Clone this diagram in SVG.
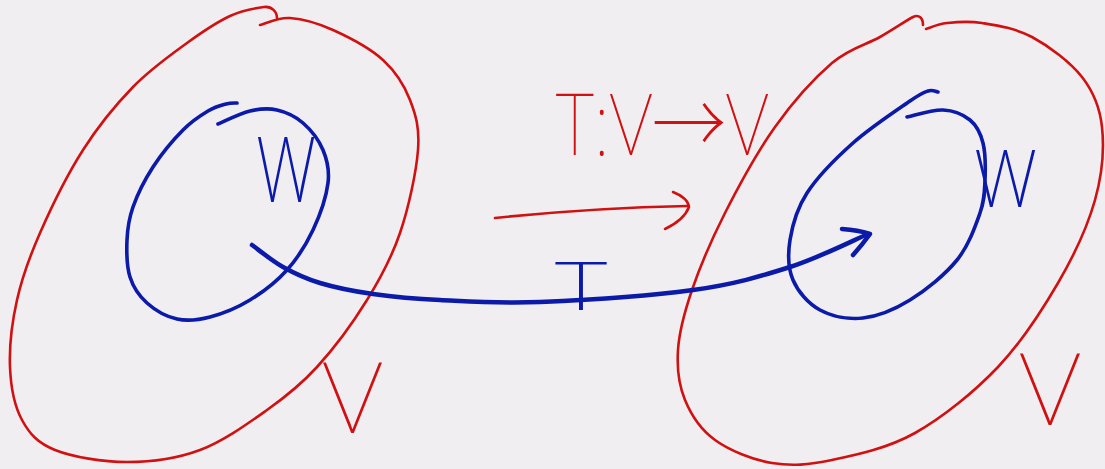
<svg xmlns="http://www.w3.org/2000/svg" width="1105" height="469" viewBox="0 0 1105 469">
<style>
.red{fill:none;stroke:#d11111;stroke-width:2.6;stroke-linecap:round;stroke-linejoin:round}
.blue{fill:none;stroke:#0b1aa8;stroke-width:3.6;stroke-linecap:round;stroke-linejoin:round}
.arrow{fill:none;stroke:#0b1aa8;stroke-width:4.5;stroke-linecap:round;stroke-linejoin:round}
.tr{fill:#d11111;font-family:"Noto Sans","Noto Sans CJK SC","DejaVu Sans","Liberation Sans",sans-serif;font-weight:100}
.tb{fill:#0b1aa8;font-family:"Noto Sans","DejaVu Sans","Liberation Sans",sans-serif;font-weight:200}
</style>
<rect x="0" y="0" width="1105" height="469" fill="#f0eef1"/>
<g id="V-left">
<path class="red" d="M277,18 C277,12 272,6 264,7 S242.8,10 230,16 S203.2,31.2 187,43 S150.3,69.2 133,87 S98.5,125.7 83,150 S51,208 40,233 S22,277.7 17,300 S9.2,347 10,367 S14.5,406.2 22,420 S37.5,443 55,450 S102.8,462 127,462 S176.7,458.7 200,450 S247.5,423.8 267,410 S300.3,385.3 317,367 S353.2,322.3 367,300 S391.5,258 400,233 S416.3,172.2 418,150 S415.8,115 410,100 S395.8,71.7 383,60 S348.5,37 333,30 S302.2,18.8 290,18 S265,23.8 260,25"/>
<text class="tr" x="323" y="433" font-size="98" textLength="59" lengthAdjust="spacingAndGlyphs">V</text>
</g>
<g id="W-left">
<path class="blue" d="M237,103 C235.2,103.2 230.8,102.7 226,104 S215.2,106.7 208,111 S192.2,120.7 183,130 S161.3,154.2 153,167 S137.3,194.8 133,207 S127.5,228.3 127,240 S126.7,266.5 130,277 S139.2,296 147,303 S166.5,316.7 177,319 S197.8,320.2 210,317 S237.2,307.8 250,300 S276.5,281.7 287,270 S306.2,244.5 313,230 S326.3,196.3 328,183 S327.2,160 323,150 S310.7,129.7 303,123 S285.8,112 277,110 S259.8,108.7 250,111 S223.3,121.8 218,124"/>
<text class="tb" x="256" y="202" font-size="90" textLength="60" lengthAdjust="spacingAndGlyphs">W</text>
</g>
<g id="V-right">
<path class="red" d="M923,25 C923,18 919,14 913,17 S893.5,29.3 880,37 S849.5,48 832,63 S792.8,102 775,127 S738.8,185.8 725,213 S699.8,267.2 692,290 S679.2,331.7 678,350 S678.8,385 685,400 S700.5,429.5 715,440 S752.5,459.7 772,463 S808.2,465 832,460 S887.3,448.5 915,433 S974.2,392 998,367 S1041.8,310.8 1058,283 S1087.7,226 1095,200 S1104.2,147.5 1102,127 S1093.7,92 1082,77 S1048.7,46 1032,37 S996.2,25.3 982,23 S956.3,22 947,23 S929.5,28 926,29"/>
<text class="tr" x="1020" y="425" font-size="100" textLength="60" lengthAdjust="spacingAndGlyphs">V</text>
</g>
<g id="W-right">
<path class="blue" d="M938,92 C936.3,91.8 932.7,89.5 928,91 S922.5,92.3 910,101 S870.2,127.7 853,143 S817.5,176.8 807,193 S792.3,225.5 790,240 S788,268.3 793,280 S808.3,303.7 820,310 S848,319.7 863,318 S894.3,309.7 910,300 S945.3,274.5 957,260 S975.3,226.3 980,213 S984.5,191.7 985,180 S985.5,153 983,143 S976.7,125.5 970,120 S953.5,110.5 943,110 S913,115.8 907,117"/>
<text class="tb" x="974" y="207" font-size="80" textLength="63" lengthAdjust="spacingAndGlyphs">W</text>
</g>
<g id="connectors">
<g id="map-arrow">
<path class="red" stroke-width="3" d="M495,218 Q590,208 688,206"/>
<path class="red" stroke-width="3" d="M673,192 Q688,198 689,207 Q684,220 665,229"/>
<text class="tr" x="556" y="155" font-size="85" textLength="212" lengthAdjust="spacingAndGlyphs">T:V→V</text>
</g>
<g id="T-arrow">
<path class="arrow" d="M252,245 C257.2,248.7 271.7,260.7 283,267 S305,278.5 320,283 S353,291.2 373,294 S412.2,298.7 440,300 S497.8,303.7 540,302 S651.3,295.8 693,290 S760.8,276.3 790,267 S855,239.5 868,234"/>
<path class="arrow" stroke-width="4" d="M842,229 Q858,230 870,234 Q862,245 853,255"/>
<text class="tb" x="555" y="310" font-size="66" textLength="52" lengthAdjust="spacingAndGlyphs">T</text>
</g>
</g>
</svg>
